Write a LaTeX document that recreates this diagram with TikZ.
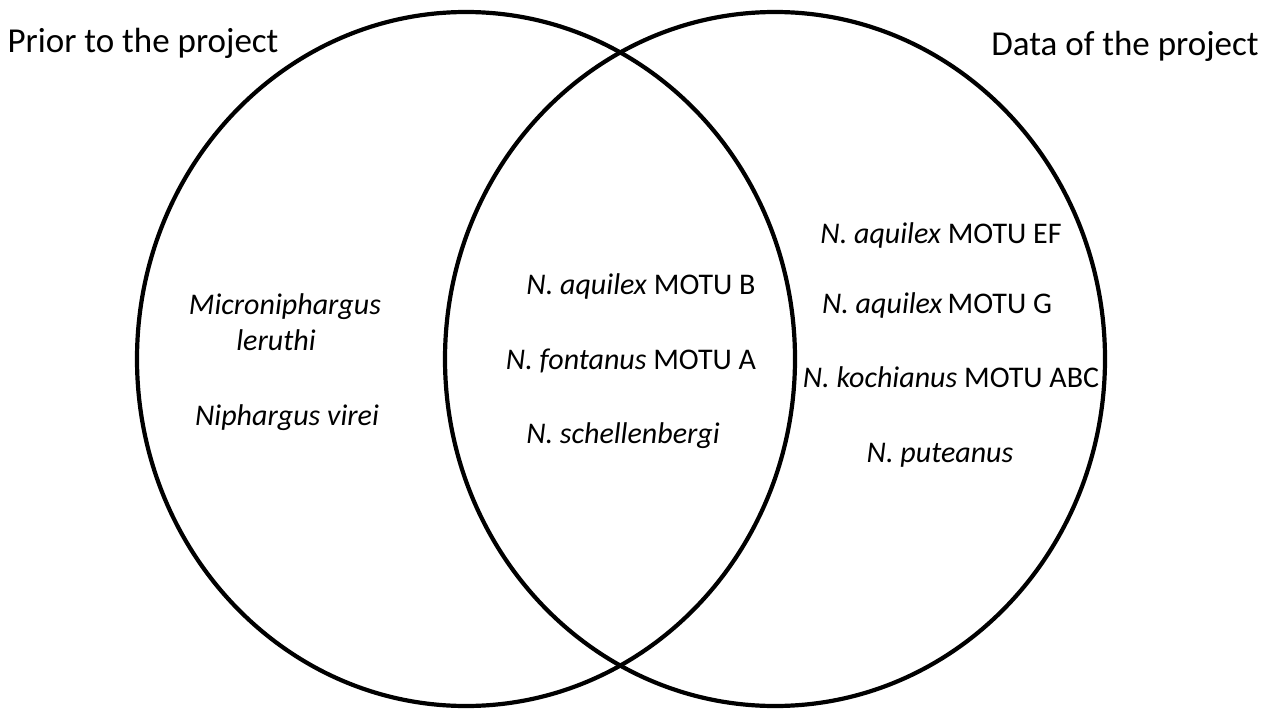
\documentclass[tikz,border=0pt]{standalone}
\usepackage{fontspec}
\setmainfont{Carlito}
\begin{document}
\begin{tikzpicture}[x=1pt,y=-1pt,
  venn/.style={draw=black,line width=4.2pt},
  title/.style={anchor=base,font=\fontsize{35}{40}\selectfont,inner sep=0pt},
  lbl/.style={anchor=base,font=\fontsize{30}{36}\selectfont,inner sep=0pt}]
\useasboundingbox (0,0) rectangle (1269,709);
\draw[venn] (466,359) ellipse [x radius=329, y radius=347];
\draw[venn] (775,359) ellipse [x radius=330, y radius=347];
\node[title] (prior) at (143,53) {Prior to the project};
\node[title] (data) at (1125,56) {Data of the project};
\node[lbl] (micro) at (285,314) {\itshape Microniphargus};
\node[lbl] (leru) at (276,350) {\itshape leruthi};
\node[lbl] (virei) at (287,425) {\itshape Niphargus virei};
\node[lbl] (aqB) at (641,294) {\textit{N. aquilex} MOTU B};
\node[lbl] (fonA) at (631,369) {\textit{N. fontanus} MOTU A};
\node[lbl] (sch) at (623,443) {\textit{N. schellenbergi}};
\node[lbl] (aqEF) at (941,243) {\textit{N. aquilex} MOTU EF};
\node[lbl] (aqG) at (937,313) {\textit{N. aquilex}\,MOTU G};
\node[lbl] (koch) at (951,387) {\textit{N. kochianus} MOTU ABC};
\node[lbl] (put) at (940,462) {\textit{N. puteanus}};
\end{tikzpicture}
\end{document}
